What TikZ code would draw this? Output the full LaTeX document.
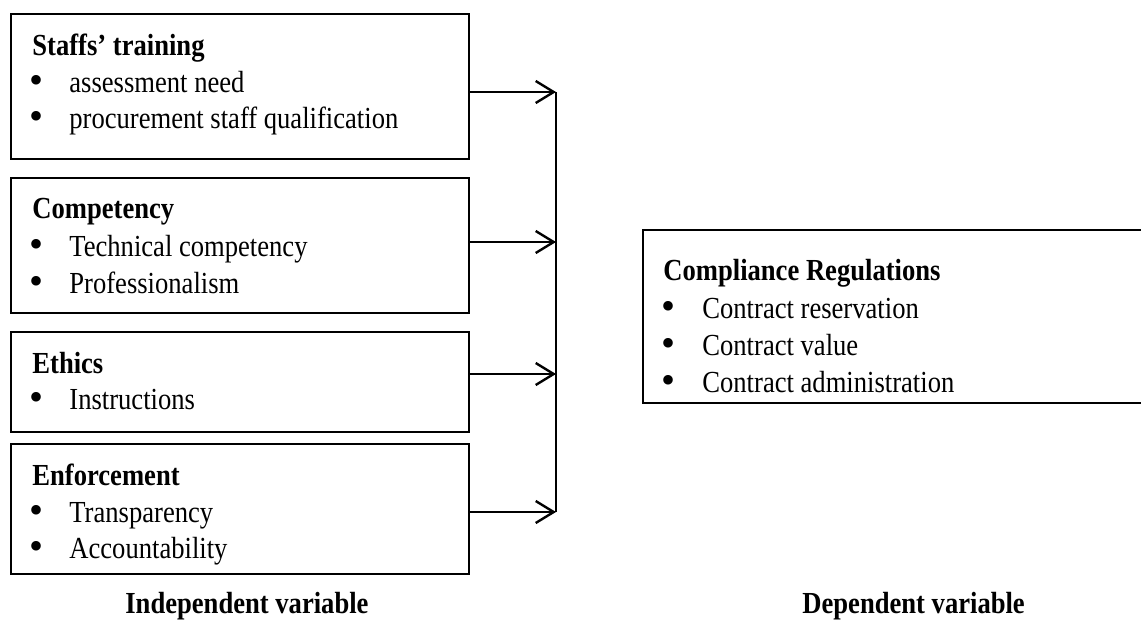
\documentclass[tikz,border=0pt]{standalone}
\usepackage{graphicx}
\usepackage{fontspec}
\setmainfont{Liberation Serif}
\usetikzlibrary{arrows.meta}
\newcommand{\vstr}[1]{\scalebox{1}[1.15]{#1}}
\begin{document}
\begin{tikzpicture}[x=0.5pt,y=-0.5pt,
  box/.style={draw=black,line width=1pt,anchor=north west,inner sep=0pt,outer sep=0pt},
  hd/.style={anchor=base west,inner sep=0pt,font=\fontsize{13.3pt}{16pt}\selectfont\bfseries},
  it/.style={anchor=base west,inner sep=0pt,font=\fontsize{13.3pt}{16pt}\selectfont},
  bl/.style={anchor=center,inner sep=0pt,font=\fontsize{20pt}{20pt}\selectfont},
  conn/.style={line width=1.2pt,-{Straight Barb[length=9pt,width=11pt,line width=1.2pt]}},
  vline/.style={line width=0.9pt}]
\useasboundingbox (0,0) rectangle (1141,622);
\clip (0,0) rectangle (1141,622);
% boxes
\node[box,minimum width=229pt,minimum height=72.5pt] (b1) at (11,14) {};
\node[box,minimum width=229pt,minimum height=67.5pt] (b2) at (11,178) {};
\node[box,minimum width=229pt,minimum height=50pt] (b3) at (11,332) {};
\node[box,minimum width=229pt,minimum height=65pt] (b4) at (11,444) {};
\node[box,minimum width=260pt,minimum height=86.5pt] (r) at (643,230) {};
% box 1
\node[hd] (h1) at (32,55) {\vstr{Staffs’ training}};
\node[bl] (p11) at (37,84) {•};
\node[it] (t11) at (69,92) {\vstr{assessment need}};
\node[bl] (p12) at (37,120) {•};
\node[it] (t12) at (69,128) {\vstr{procurement staff qualification}};
% box 2
\node[hd] (h2) at (32,218) {\vstr{Competency}};
\node[bl] (p21) at (37,248) {•};
\node[it] (t21) at (69,256) {\vstr{Technical competency}};
\node[bl] (p22) at (37,285) {•};
\node[it] (t22) at (69,293) {\vstr{Professionalism}};
% box 3
\node[hd] (h3) at (32,373) {\vstr{Ethics}};
\node[bl] (p31) at (37,401) {•};
\node[it] (t31) at (69,409) {\vstr{Instructions}};
% box 4
\node[hd] (h4) at (32,485) {\vstr{Enforcement}};
\node[bl] (p41) at (37,514) {•};
\node[it] (t41) at (69,522) {\vstr{Transparency}};
\node[bl] (p42) at (37,550) {•};
\node[it] (t42) at (69,558) {\vstr{Accountability}};
% right box
\node[hd] (hr) at (663,280) {\vstr{Compliance Regulations}};
\node[bl] (pr1) at (668,310) {•};
\node[it] (tr1) at (702,318) {\vstr{Contract reservation}};
\node[bl] (pr2) at (668,347) {•};
\node[it] (tr2) at (702,355) {\vstr{Contract value}};
\node[bl] (pr3) at (668,384) {•};
\node[it] (tr3) at (702,392) {\vstr{Contract administration}};
% footers
\node[hd] (f1) at (125,613) {\vstr{Independent variable}};
\node[hd] (f2) at (802,613) {\vstr{Dependent variable}};
% connectors
\coordinate (j1) at (556,92);
\coordinate (j2) at (556,242);
\coordinate (j3) at (556,374);
\coordinate (j4) at (556,512);
\draw[vline] (j1) -- (j4);
\draw[conn] (b1.east |- j1) -- (j1);
\draw[conn] (b2.east |- j2) -- (j2);
\draw[conn] (b3.east |- j3) -- (j3);
\draw[conn] (b4.east |- j4) -- (j4);
\end{tikzpicture}
\end{document}
